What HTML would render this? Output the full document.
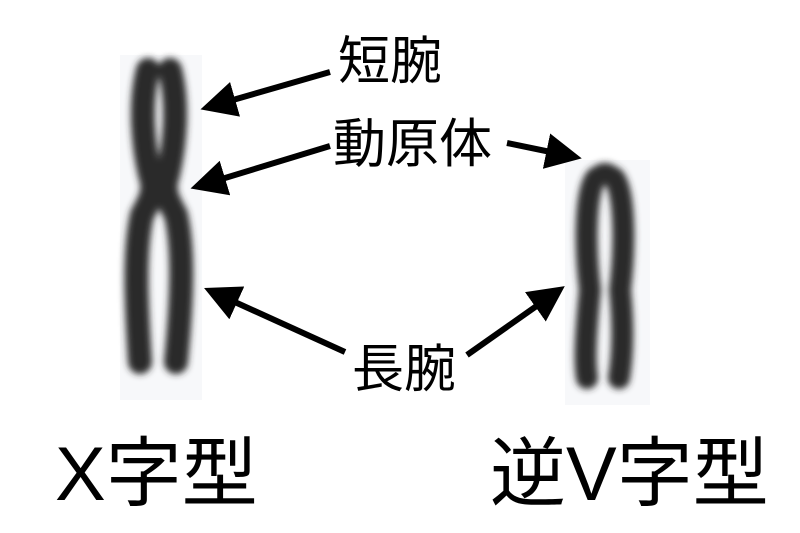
<!DOCTYPE html>
<html><head><meta charset="utf-8"><style>
body{margin:0;background:#fff;width:800px;height:533px;overflow:hidden;position:relative;font-family:"Liberation Sans","Noto Sans CJK JP",sans-serif}
.t{position:absolute;color:#000;white-space:nowrap;line-height:1}
</style></head><body>
<svg width="800" height="533" style="position:absolute;left:0;top:0">
<defs>
<filter id="b" x="-50%" y="-20%" width="200%" height="140%"><feGaussianBlur stdDeviation="3.5"/></filter>
<marker id="a" markerWidth="6" markerHeight="6" refX="4" refY="3" orient="auto" markerUnits="strokeWidth"><path d="M0,0 L6,3 L0,6 z" fill="#000"/></marker>
</defs>
<rect x="120" y="55" width="82" height="345" fill="#f7f8fa"/>
<rect x="565" y="160" width="85" height="245" fill="#f7f8fa"/>
<g filter="url(#b)" stroke="#2a2a2c" fill="none" stroke-linecap="round">
<path d="M148,70 C140,100 142,140 150,175 C156,190 150,200 142,215 C134,250 136,300 140,362" stroke-width="24"/>
<path d="M170,70 C178,100 176,140 168,175 C162,190 168,200 176,215 C184,250 182,300 176,362" stroke-width="24"/>
<path d="M148,180 L170,180" stroke-width="16"/>
<path d="M596,178 C586,190 584,240 590,290 C586,330 584,360 587,378" stroke-width="22"/>
<path d="M614,178 C624,190 626,240 620,290 C624,330 622,360 619,378" stroke-width="22"/>
<path d="M596,178 Q605,168 614,178" stroke-width="20"/>
</g>
<g stroke="#000" stroke-width="6" marker-end="url(#a)">
<line x1="330" y1="72" x2="212" y2="106"/>
<line x1="330" y1="146" x2="202" y2="185"/>
<line x1="507" y1="143" x2="570" y2="156"/>
<line x1="345" y1="352" x2="215" y2="293"/>
<line x1="467" y1="355" x2="555" y2="293"/>
</g>
</svg>
<div class="t" style="left:338px;top:36px;font-size:52px">短腕</div>
<div class="t" style="left:333px;top:118px;font-size:53px">動原体</div>
<div class="t" style="left:352px;top:344px;font-size:52px">長腕</div>
<div class="t" style="left:55px;top:437px;font-size:76px">X字型</div>
<div class="t" style="left:490px;top:437px;font-size:76px">逆V字型</div>
</body></html>
